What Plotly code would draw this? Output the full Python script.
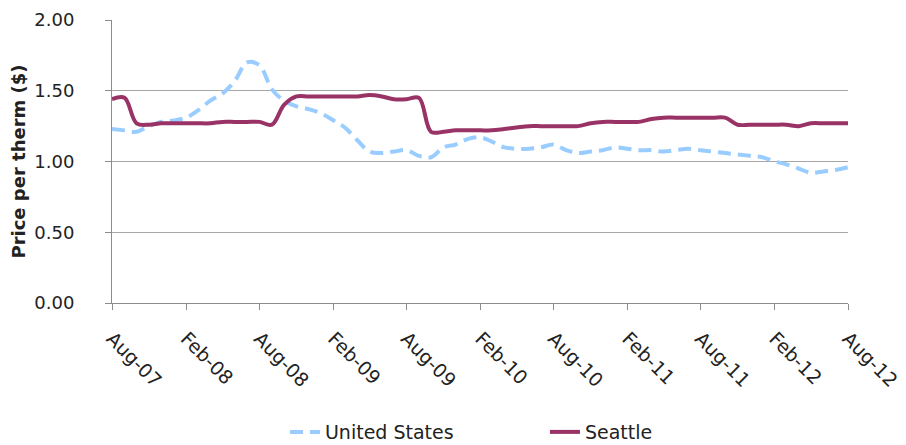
import plotly.graph_objects as go
import pandas as pd

months = pd.date_range("2007-08-01", "2012-08-01", freq="MS").strftime("%Y-%m-%d").tolist()

us_price = [1.23, 1.22, 1.21, 1.25, 1.28, 1.29, 1.31, 1.36, 1.43, 1.48,
            1.57, 1.70, 1.68, 1.51, 1.43, 1.39, 1.37, 1.34, 1.29, 1.24,
            1.15, 1.07, 1.06, 1.07, 1.08, 1.04, 1.03, 1.10, 1.12, 1.16,
            1.17, 1.14, 1.10, 1.09, 1.09, 1.10, 1.12, 1.08, 1.06, 1.07,
            1.08, 1.10, 1.09, 1.08, 1.08, 1.07, 1.08, 1.09, 1.08, 1.07,
            1.06, 1.05, 1.04, 1.03, 1.00, 0.98, 0.95, 0.92, 0.93, 0.94,
            0.96]

seattle_price = [1.44, 1.45, 1.27, 1.26, 1.27, 1.27, 1.27, 1.27, 1.27, 1.28,
                 1.28, 1.28, 1.28, 1.26, 1.40, 1.46, 1.46, 1.46, 1.46, 1.46,
                 1.46, 1.47, 1.46, 1.44, 1.44, 1.45, 1.21, 1.21, 1.22, 1.22,
                 1.22, 1.22, 1.23, 1.24, 1.25, 1.25, 1.25, 1.25, 1.25, 1.27,
                 1.28, 1.28, 1.28, 1.28, 1.30, 1.31, 1.31, 1.31, 1.31, 1.31,
                 1.31, 1.26, 1.26, 1.26, 1.26, 1.26, 1.25, 1.27, 1.27, 1.27,
                 1.27]

tick_vals = months[::6]
tick_text = [pd.Timestamp(m).strftime("%b-%y") for m in tick_vals]
y_ticks = [0.0, 0.5, 1.0, 1.5, 2.0]

fig = go.Figure()
fig.add_trace(go.Scatter(x=months, y=us_price, mode="lines", name="United States",
                         line=dict(color="#99CCFF", width=4, dash="13px,7px"),
                         line_shape="spline"))
fig.add_trace(go.Scatter(x=months, y=seattle_price, mode="lines", name="Seattle",
                         line=dict(color="#993366", width=4),
                         line_shape="spline"))

fig.update_layout(
    width=906, height=445,
    margin=dict(l=104, r=66, t=12, b=150, autoexpand=False),
    paper_bgcolor="white", plot_bgcolor="white",
    font=dict(family="DejaVu Sans", size=14, color="#222222"),
    showlegend=True,
    legend=dict(orientation="h", x=0.235, xanchor="left", y=-0.456, yanchor="middle",
                font=dict(family="DejaVu Sans", size=19, color="#222222"),
                entrywidth=215, entrywidthmode="pixels", tracegroupgap=0),
)
fig.update_xaxes(
    type="date", range=[months[0], months[-1]], automargin=False,
    tickmode="array", tickvals=tick_vals, ticktext=tick_text, tickangle=45,
    showgrid=False, showline=True, linecolor="#8c8c8c", linewidth=1,
    ticks="outside", ticklen=6, tickcolor="#8c8c8c", ticklabelstandoff=10,
    tickfont=dict(family="DejaVu Sans", size=19, color="#222222"),
)
fig.update_yaxes(
    range=[0, 2], tickmode="array", tickvals=y_ticks, automargin=False,
    ticktext=[f"{v:.2f}" for v in y_ticks],
    showgrid=True, gridcolor="#a6a6a6", gridwidth=1,
    showline=True, linecolor="#8c8c8c", linewidth=1,
    ticks="outside", ticklen=6, tickcolor="#8c8c8c", ticklabelstandoff=27,
    tickfont=dict(family="DejaVu Sans", size=18, color="#222222"),
    title=dict(text="<b>Price per therm ($)</b>", font=dict(family="DejaVu Sans", size=18, color="#222222"), standoff=10),
)

fig.write_html("out.html")
